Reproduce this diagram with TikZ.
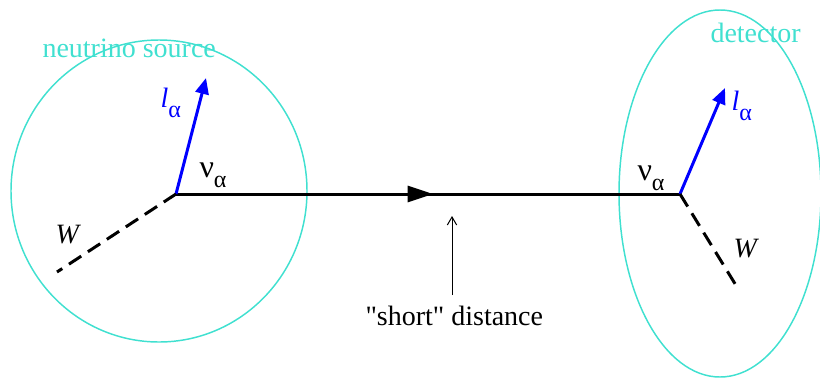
\documentclass[tikz,border=0pt]{standalone}
\usepackage{fontspec}
\setmainfont{Liberation Serif}
\usetikzlibrary{arrows.meta}

\definecolor{srcturq}{RGB}{64,224,208}
\newcommand{\lowsub}[1]{\raisebox{-8pt}{\fontsize{18}{20}\selectfont #1}}
\tikzset{every picture/.style={line width=0.75pt}}
\tikzset{
  fline/.style={line width=2.25pt},
  lepton/.style={draw=blue,line width=2.25pt,-{Triangle[length=12pt,width=10pt]}},
  wboson/.style={line width=2.25pt,dash pattern=on 11pt off 6pt},
  region/.style={draw=srcturq,line width=1.1pt},
  lbl/.style={anchor=base west,inner sep=0pt,font=\fontsize{21}{25}\selectfont},
}

\begin{document}
\begin{tikzpicture}[x=0.75pt,y=0.75pt,yscale=-1,xscale=1]
\useasboundingbox (0,0) rectangle (820,379);

%Shape: Ellipse [source]
\draw[region] (159,191) ellipse [x radius=148, y radius=151];
%Shape: Ellipse [detector]
\draw[region] (720,193.5) ellipse [x radius=101, y radius=183.5];

% vertices and line ends
\coordinate (src) at (176,194);
\coordinate (det) at (680,194);
\coordinate (lsrc) at (206,78);
\coordinate (wsrc) at (57,272);
\coordinate (ldet) at (725,88);
\coordinate (wdet) at (737,287);
\coordinate (mid) at (433,194);
\coordinate (gaptip) at (452,216);
\coordinate (gapfoot) at (452,295);

%Straight Lines [neutrino]
\draw[fline] (src) -- (det);
\draw[fline,-{Triangle[length=19pt,width=12pt]}] (src) -- (mid);
%Straight Lines [leptons]
\draw[lepton] (src) -- (lsrc);
\draw[lepton] (det) -- (ldet);
%Straight Lines [W]
\draw[wboson] (src) -- (wsrc);
\draw[wboson] (det) -- (wdet);
%Straight Lines [distance]
\draw[-{Straight Barb[length=6pt,width=7pt]}] (gapfoot) -- (gaptip);

% Text Node
\node[lbl,text=srcturq] (srclbl) at (42,57) {neutrino source};
% Text Node
\node[lbl,text=srcturq] (detlbl) at (710,42) {detector};
% Text Node
\node[lbl,text=blue] (lsrclbl) at (160,107) {\textit{l}\lowsub{α}};
% Text Node
\node[lbl,text=blue] (ldetlbl) at (731,110) {\textit{l}\lowsub{α}};
% Text Node
\node[lbl,font=\fontsize{24}{28}\selectfont] (nusrclbl) at (199,177) {ν\lowsub{α}};
% Text Node
\node[lbl,font=\fontsize{24}{28}\selectfont] (nudetlbl) at (637,180) {ν\lowsub{α}};
% Text Node
\node[lbl] (wsrclbl) at (55,243) {\textit{W}};
% Text Node
\node[lbl] (wdetlbl) at (733,257) {\textit{W}};
% Text Node
\node[lbl] (dist) at (365,325) {\textquotedbl short\textquotedbl{} distance};

\end{tikzpicture}
\end{document}
